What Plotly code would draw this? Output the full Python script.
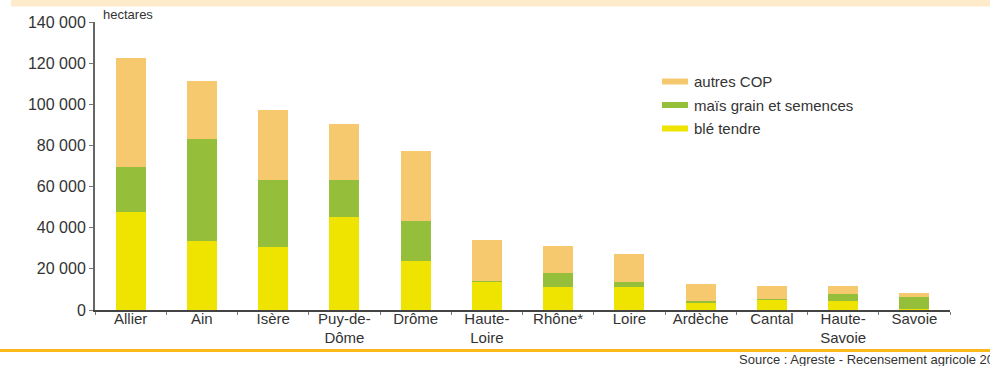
import plotly.graph_objects as go

categories = ["Allier", "Ain", "Isère", "Puy-de-Dôme", "Drôme", "Haute-Loire",
              "Rhône*", "Loire", "Ardèche", "Cantal", "Haute-Savoie", "Savoie"]
tick_labels = ["Allier", "Ain", "Isère", "Puy-de-<br>Dôme", "Drôme", "Haute-<br>Loire",
               "Rhône*", "Loire", "Ardèche", "Cantal", "Haute-<br>Savoie", "Savoie"]
ble_tendre = [47400, 33500, 30600, 45000, 23900, 13700, 11000, 11000, 3200, 5300, 4500, 500]
mais_grain = [21900, 49500, 32800, 18400, 19400, 300, 7100, 2400, 1200, 200, 3100, 5800]
autres_cop = [53000, 28300, 33700, 27200, 33900, 20100, 13000, 13900, 8100, 6300, 3900, 1800]
y_ticks = [0, 20000, 40000, 60000, 80000, 100000, 120000, 140000]
y_tick_labels = ["0", "20 000", "40 000", "60 000", "80 000", "100 000", "120 000", "140 000"]
series_names = ["autres COP", "maïs grain et semences", "blé tendre"]

C_YELLOW = "#EFE300"
C_GREEN = "#95BE3A"
C_ORANGE = "#F7C96F"
FONT = "Liberation Sans"
TXT = "#333333"

fig = go.Figure()
fig.add_trace(go.Bar(x=categories, y=ble_tendre, name=series_names[2], marker_color=C_YELLOW,
                     marker_line_width=0, showlegend=False))
fig.add_trace(go.Bar(x=categories, y=mais_grain, name=series_names[1], marker_color=C_GREEN,
                     marker_line_width=0, showlegend=False))
fig.add_trace(go.Bar(x=categories, y=autres_cop, name=series_names[0], marker_color=C_ORANGE,
                     marker_line_width=0, showlegend=False))

# plot area in pixels: x 95..950, y 22..310
L, R, T, B = 95, 950, 22, 310
W, H = R - L, B - T
def px(x):
    return (x - L) / W
def py(y):
    return (B - y) / H

shapes = []
annotations = []
# top band
shapes.append(dict(type="rect", xref="paper", yref="paper", x0=px(11), x1=px(995),
                   y0=py(6.5), y1=py(-2), fillcolor="#FDEBCB", line_width=0, layer="below"))
# bottom orange line
shapes.append(dict(type="line", xref="paper", yref="paper", x0=px(0), x1=px(995),
                   y0=py(350.5), y1=py(350.5), line=dict(color="#FBB819", width=3)))
# custom legend
leg_colors = [C_ORANGE, C_GREEN, C_YELLOW]
leg_y = [81.5, 105, 128.5]
for name, col, yy in zip(series_names, leg_colors, leg_y):
    shapes.append(dict(type="rect", xref="paper", yref="paper", x0=px(662), x1=px(688),
                       y0=py(yy + 3), y1=py(yy - 3), fillcolor=col, line_width=0))
    annotations.append(dict(xref="paper", yref="paper", x=px(692), y=py(yy), text=name,
                            showarrow=False, xanchor="left", yanchor="middle",
                            font=dict(family=FONT, size=15, color=TXT)))
annotations.append(dict(xref="paper", yref="paper", x=px(101), y=py(14), text="hectares",
                        showarrow=False, xanchor="left", yanchor="middle",
                        font=dict(family=FONT, size=13, color=TXT)))
annotations.append(dict(xref="paper", yref="paper", x=px(737), y=py(359), text="Source : Agreste - Recensement agricole 2010",
                        showarrow=False, xanchor="left", yanchor="middle",
                        font=dict(family=FONT, size=13, color=TXT)))

fig.update_layout(
    width=990, height=366,
    margin=dict(l=L, r=990 - R, t=T, b=366 - B, pad=0),
    barmode="stack", bargap=0.58,
    plot_bgcolor="white", paper_bgcolor="white",
    font=dict(family=FONT, size=16, color=TXT),
    shapes=shapes, annotations=annotations,
    showlegend=False,
)
fig.update_xaxes(type="category", tickvals=categories, ticktext=tick_labels,
                 showline=True, linecolor="#444444", linewidth=1.5,
                 ticks="outside", tickson="boundaries", ticklen=3, tickcolor="#777777",
                 ticklabelstandoff=-6,
                 tickfont=dict(family=FONT, size=15, color=TXT), showgrid=False)
fig.update_yaxes(range=[0, 140000], tickvals=y_ticks, ticktext=y_tick_labels,
                 showline=True, linecolor="#666666", linewidth=2,
                 ticks="outside", ticklen=4, tickcolor="#777777",
                 tickfont=dict(family=FONT, size=16, color=TXT), showgrid=False, zeroline=False)

fig.write_html("out.html", config={"displayModeBar": False},
               post_script="document.body.style.margin='0px';document.body.style.overflow='hidden';")
